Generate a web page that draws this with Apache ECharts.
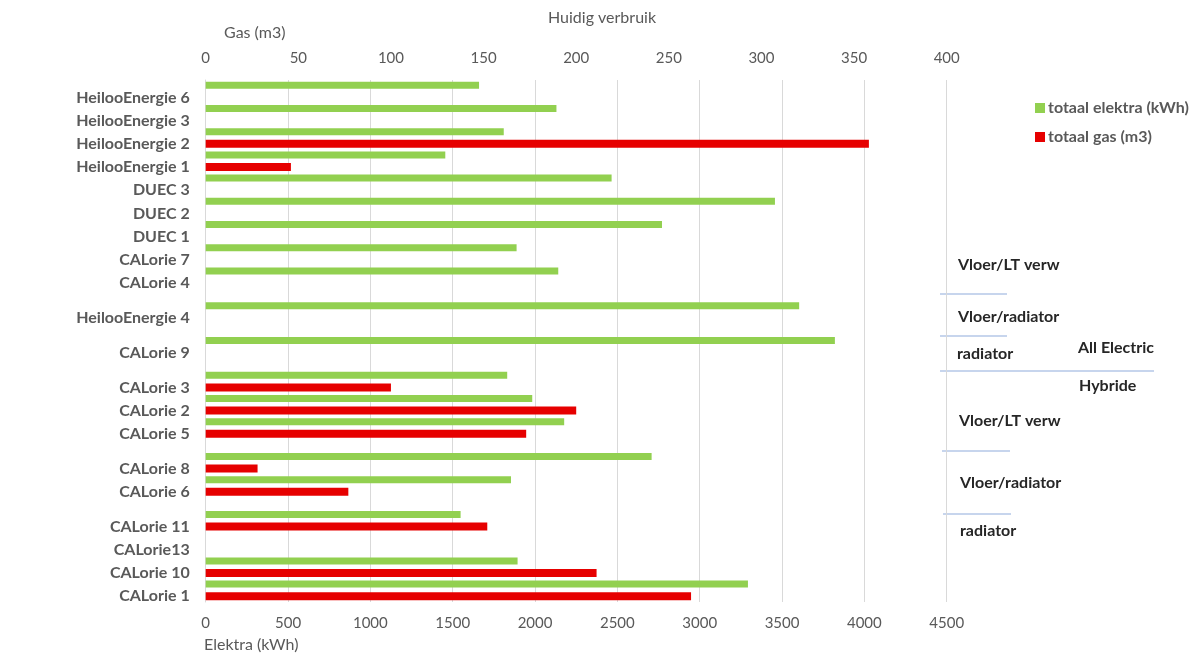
<!DOCTYPE html>
<html>
<head>
<meta charset="utf-8">
<script src="https://cdn.jsdelivr.net/npm/echarts@6/dist/echarts.min.js"></script>
<style>
  html, body { margin: 0; padding: 0; background: #fff; }
  #chart { width: 1200px; height: 654px; }
</style>
</head>
<body>
<div id="chart"></div>
<script>
// categorieen, van boven naar onder
const categories = ['HeilooEnergie 6', 'HeilooEnergie 3', 'HeilooEnergie 2', 'HeilooEnergie 1', 'DUEC 3', 'DUEC 2', 'DUEC 1', 'CALorie 7', 'CALorie 4',
  'HeilooEnergie 4', 'CALorie 9', 'CALorie 3', 'CALorie 2', 'CALorie 5', 'CALorie 8', 'CALorie 6',
  'CALorie 11', 'CALorie13', 'CALorie 10', 'CALorie 1']
const elektra = [1660, 2130, 1810, 1455, 2465, 3457, 2771, 1888, 2141,
  3604, 3821, 1831, 1983, 2177, 2708, 1854, 1548, null, 1894, 3293]
const gas = [null, null, 358, 46, null, null, null, null, null,
  null, null, 100, 200, 173, 28, 77, 152, null, 211, 262]
// aantal categorieen per blok (lege regel ertussen)
const groupSizes = [9, 1, 1, 3, 2, 4]
const elektraTicks = [0, 4500, 500]
const gasTicks = [0, 400, 50]

// elke categorie krijgt twee regels: groen boven, rood eronder
let slotLabels = [], slotE = [], slotG = []
let i = 0
groupSizes.forEach((n, g) => {
  if (g > 0) { slotLabels.push(''); slotE.push(null); slotG.push(null) }
  for (let k = 0; k < n; k++) {
    slotLabels.push(''); slotE.push(elektra[i]); slotG.push(null)
    slotLabels.push(categories[i]); slotE.push(null); slotG.push(gas[i])
    i++
  }
})

const font = 'Lato, "Open Sans", sans-serif'
const grey = '#595959'
const dark = '#262626'
const lineBlue = '#b4c7e7'

let myChart = echarts.init(document.getElementById('chart'))

function note(text, x, y) {
  return { type: 'text', left: x, top: y - 10, style: { text: text, fill: dark, font: 'bold 16px ' + font } }
}
function hline(x1, x2, y) {
  return { type: 'line', shape: { x1: x1, y1: y, x2: x2, y2: y }, style: { stroke: lineBlue, lineWidth: 1.5 } }
}

let option = {
  animation: false,
  textStyle: { fontFamily: font },
  title: {
    text: 'Huidig verbruik',
    left: 543, top: 5,
    textStyle: { fontSize: 16, fontWeight: 'normal', color: grey, fontFamily: font }
  },
  legend: {
    orient: 'vertical',
    left: 1030, top: 95,
    itemWidth: 10, itemHeight: 10, itemGap: 13,
    icon: 'rect',
    textStyle: { fontSize: 16, fontWeight: 'bold', color: grey, fontFamily: font, padding: [0, 0, 0, -2] },
    data: ['totaal elektra (kWh)', 'totaal gas (m3)']
  },
  grid: { left: 205.7, right: 1200 - 946.7, top: 80, bottom: 654 - 602 },
  xAxis: [{
    type: 'value',
    position: 'bottom',
    min: elektraTicks[0], max: elektraTicks[1], interval: elektraTicks[2],
    axisLine: { show: false }, axisTick: { show: false },
    axisLabel: { color: grey, fontSize: 15, margin: 14, fontFamily: font, formatter: v => String(v) },
    splitLine: { show: true, lineStyle: { color: '#d9d9d9', width: 1 } }
  }, {
    type: 'value',
    position: 'top',
    min: gasTicks[0], max: gasTicks[1], interval: gasTicks[2],
    axisLine: { show: false }, axisTick: { show: false },
    axisLabel: { color: grey, fontSize: 15, margin: 14, fontFamily: font, formatter: v => String(v) },
    splitLine: { show: false }
  }],
  yAxis: {
    type: 'category',
    inverse: true,
    data: slotLabels.map((l, k) => 's' + k),
    axisLine: { show: true, lineStyle: { color: '#d9d9d9' } },
    axisTick: { show: false },
    axisLabel: {
      interval: 0, margin: 16, color: grey, fontSize: 16, fontWeight: 'bold', fontFamily: font,
      formatter: (v, idx) => slotLabels[idx]
    }
  },
  series: [{
    name: 'totaal elektra (kWh)',
    type: 'bar',
    xAxisIndex: 0,
    barWidth: 7,
    barGap: '-100%',
    itemStyle: { color: '#92d050' },
    data: slotE
  }, {
    name: 'totaal gas (m3)',
    type: 'bar',
    xAxisIndex: 1,
    barWidth: 8,
    barGap: '-100%',
    itemStyle: { color: '#e60000' },
    data: slotG
  }],
  graphic: [
    { type: 'text', left: 224, top: 25, style: { text: 'Gas (m3)', fill: grey, font: '16px ' + font } },
    { type: 'text', left: 204, top: 637, style: { text: 'Elektra (kWh)', fill: grey, font: '16px ' + font } },
    note('Vloer/LT verw', 958, 267),
    hline(940, 1007, 294),
    note('Vloer/radiator', 958, 319),
    hline(940, 1007, 336),
    note('radiator', 957, 356),
    note('All Electric', 1078, 350),
    hline(940, 1154, 371),
    note('Hybride', 1079, 388),
    note('Vloer/LT verw', 959, 423),
    hline(942, 1010, 451),
    note('Vloer/radiator', 960, 485),
    hline(943, 1011, 514),
    note('radiator', 960, 533)
  ]
}

myChart.setOption(option)
window.addEventListener('resize', function () {
  myChart.resize()
})
</script>
</body>
</html>
